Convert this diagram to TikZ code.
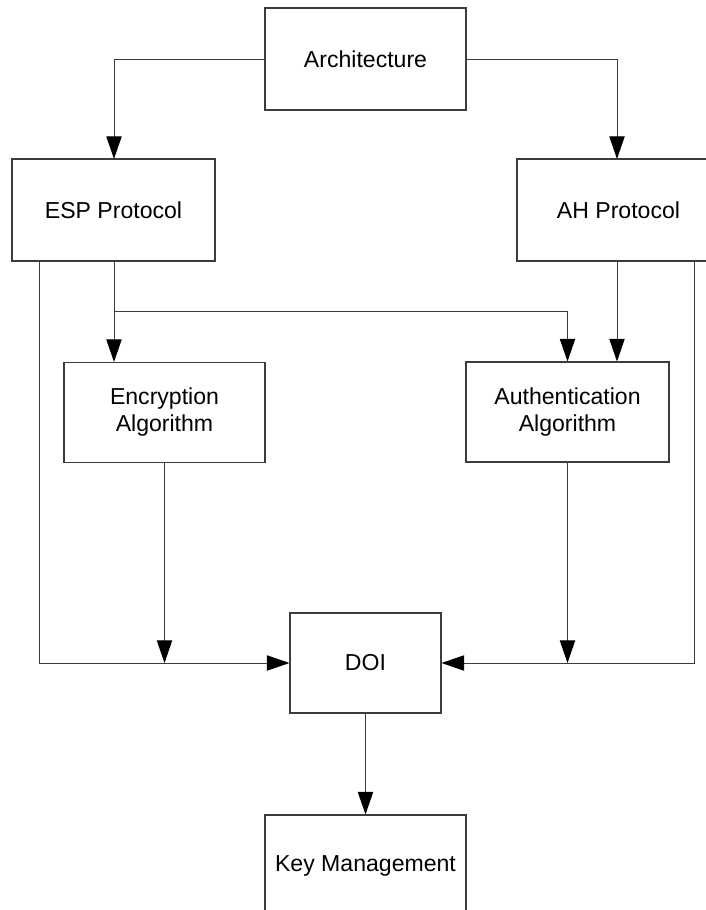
\documentclass[tikz,border=0pt]{standalone}
\usepackage{fontspec}
\setmainfont{Liberation Sans}
\usepackage{tikz}
\usetikzlibrary{arrows.meta}
\definecolor{LineGray}{RGB}{60,60,60}

\begin{document}
\begin{tikzpicture}[x=0.75pt,y=-0.75pt,
    block/.style={draw=LineGray,line width=0.8pt,fill=white,inner sep=0pt,align=center,
        font=\fontsize{17.3}{20.25}\selectfont,minimum width=#1},
    block/.default=150.75pt,
    link/.style={draw=LineGray,line width=0.75pt,-{Triangle[length=17pt,width=11.5pt,fill=black,color=black]}},
    wire/.style={draw=LineGray,line width=0.75pt}]
    \clip (0,0) rectangle (706,910);
    \fill[white] (0,0) rectangle (706,910);
    % boxes
    \node[block,minimum height=76.5pt] (arch) at (365.5,59) {Architecture};
    \node[block=152.25pt,minimum height=76.5pt] (esp) at (113.5,210) {ESP Protocol};
    \node[block=152.25pt,minimum height=76.5pt] (ah) at (618.5,210) {AH Protocol};
    \node[block,minimum height=75pt] (enc) at (164.5,412.5) {Encryption\\Algorithm};
    \node[block=152.25pt,minimum height=75pt] (auth) at (567.5,412) {Authentication\\Algorithm};
    \node[block=113.25pt,minimum height=75pt] (doi) at (365.5,663) {DOI};
    \node[block,minimum height=76.5pt] (km) at (365.5,866) {Key Management};
    % branch points
    \coordinate (espleft) at (39.5,261);
    \coordinate (ahright) at (694,261);
    \coordinate (split) at (114,311);
    % connectors
    \draw[link] (arch.west) -| (114,159) coordinate (espin);
    \draw[link] (arch.east) -| (617,159) coordinate (ahin);
    \draw[link] (114,261) coordinate (espout) -- (espout |- enc.north);
    \draw[link] (split) -| (auth.north);
    \draw[link] (617,261) coordinate (ahout) -- (ahout |- auth.north);
    \draw[link] (espleft) |- (doi.west);
    \draw[link] (ahright) |- (doi.east);
    \draw[link] (enc.south) -- (enc.south |- doi.west);
    \draw[link] (auth.south) -- (auth.south |- doi.east);
    \draw[link] (doi.south) -- (km.north);
\end{tikzpicture}
\end{document}
